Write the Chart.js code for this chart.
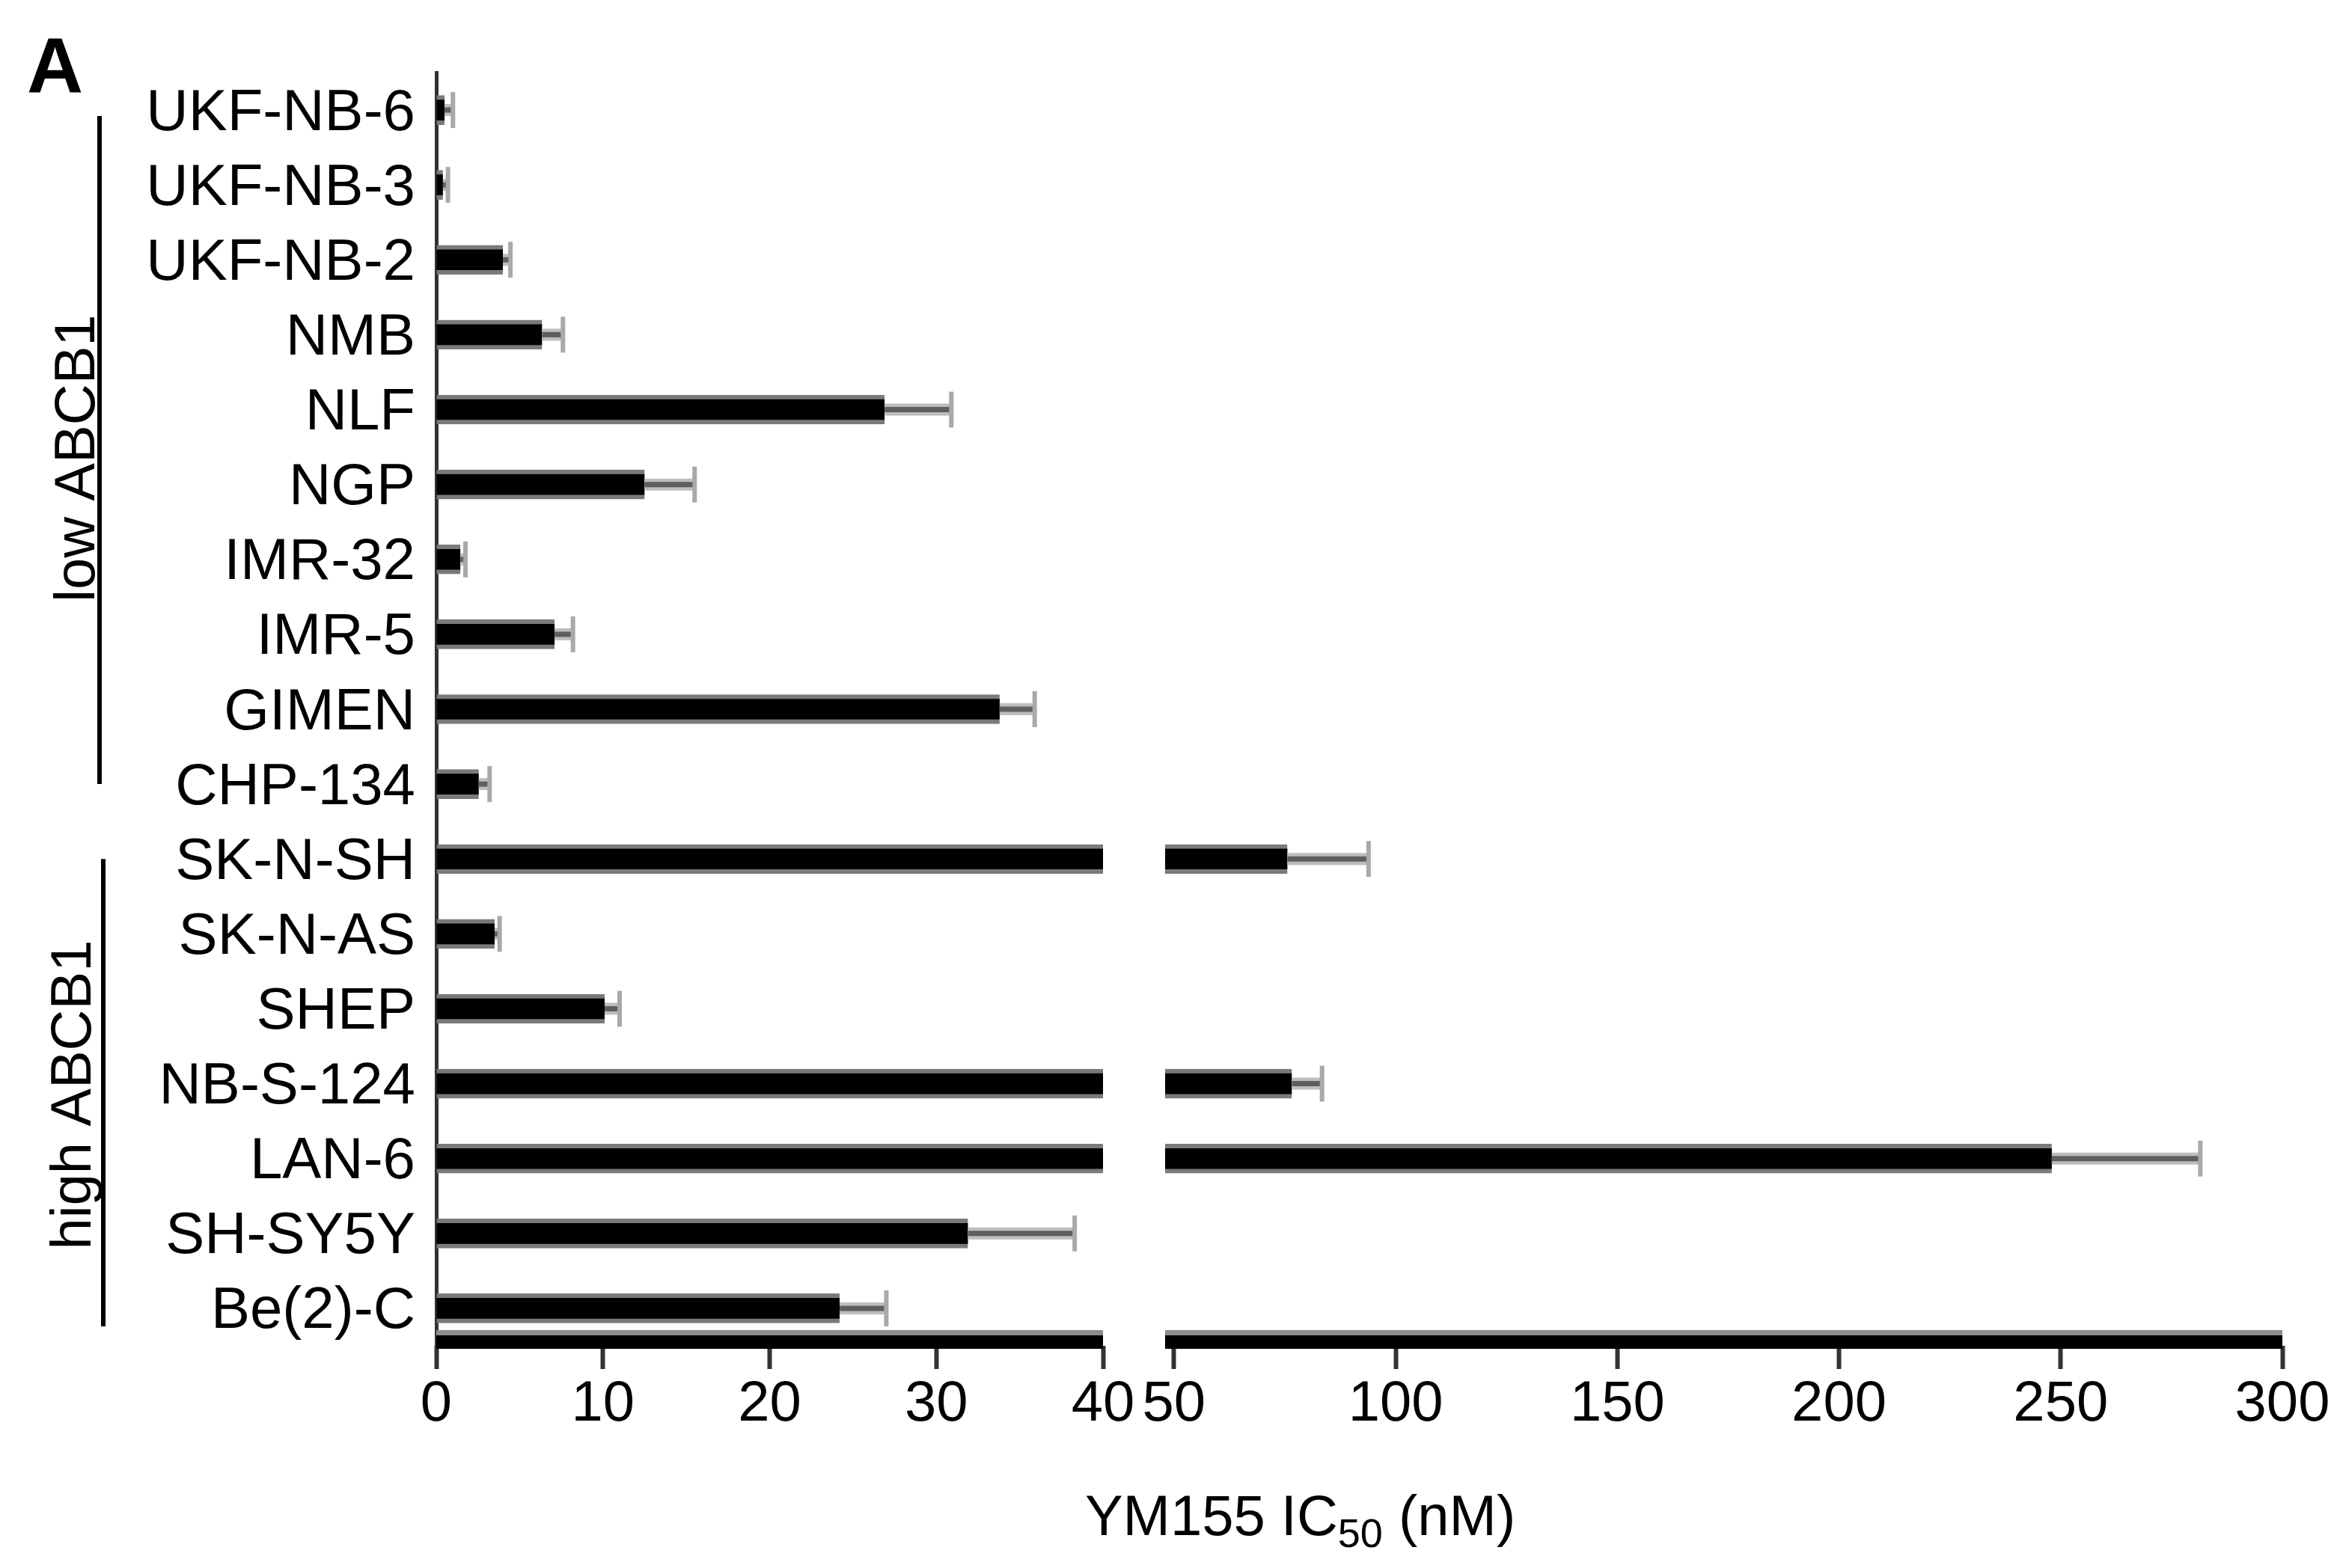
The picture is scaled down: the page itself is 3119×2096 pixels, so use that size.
<!DOCTYPE html>
<html>
<head>
<meta charset="utf-8">
<title>YM155 IC50</title>
<script src="https://cdn.jsdelivr.net/npm/chart.js@4.4.1/dist/chart.umd.min.js"></script>
<style>
  html, body { margin: 0; padding: 0; background: #fff; }
  #chart { display: block; }
</style>
</head>
<body>
<canvas id="chart" width="3119" height="2096"></canvas>
<script>
// Cell lines, top to bottom
const cellLines = ['UKF-NB-6', 'UKF-NB-3', 'UKF-NB-2', 'NMB', 'NLF', 'NGP', 'IMR-32', 'IMR-5', 'GIMEN', 'CHP-134',
                   'SK-N-SH', 'SK-N-AS', 'SHEP', 'NB-S-124', 'LAN-6', 'SH-SY5Y', 'Be(2)-C'];
// YM155 IC50 (nM), mean and SD
const ic50    = [0.5, 0.4, 4.0, 6.35, 26.9, 12.5, 1.45, 7.1, 33.8, 2.55, 75.6, 3.5, 10.1, 76.6, 248, 31.9, 24.2];
const ic50Err = [0.5, 0.3, 0.45, 1.25, 4.0, 3.0, 0.3, 1.1, 2.1, 0.65, 18.3, 0.3, 0.9, 6.8, 33.5, 6.4, 2.8];

// groups: label, first index, last index
const groupNames = ['low ABCB1', 'high ABCB1'];
const groupFirst = [0, 10];
const groupLast  = [9, 16];

// broken x axis
const leftTicks  = [0, 10, 20, 30, 40];
const rightTicks = [50, 100, 150, 200, 250, 300];
const leftRange  = [0, 40];
const rightRange = [48, 300];

const FONT = '"Liberation Sans", Arial, Helvetica, sans-serif';

const leftData  = ic50.map(v => Math.min(v, leftRange[1]));
const rightData = ic50.map(v => v > leftRange[1] ? v : null);

// error bars (SD)
const errorBars = {
  id: 'errorBars',
  afterDatasetsDraw(chart) {
    const ctx = chart.ctx;
    const y = chart.scales.y;
    ctx.save();
    ctx.lineCap = 'butt';
    ic50.forEach((v, i) => {
      const sc = v > leftRange[1] ? chart.scales.xR : chart.scales.xL;
      const x0 = sc.getPixelForValue(v);
      const x1 = sc.getPixelForValue(v + ic50Err[i]);
      const py = y.getPixelForValue(i);
      ctx.strokeStyle = '#bdbdbd';
      ctx.lineWidth = 16;
      ctx.beginPath(); ctx.moveTo(x0, py); ctx.lineTo(x1, py); ctx.stroke();
      ctx.strokeStyle = '#5e5e5e';
      ctx.lineWidth = 7;
      ctx.beginPath(); ctx.moveTo(x0, py); ctx.lineTo(x1, py); ctx.stroke();
      ctx.strokeStyle = '#a9a9a9';
      ctx.lineWidth = 6;
      ctx.beginPath(); ctx.moveTo(x1, py - 24); ctx.lineTo(x1, py + 24); ctx.stroke();
    });
    ctx.restore();
  }
};

// thick bottom axis bars, panel letter, group brackets, axis title
const decorations = {
  id: 'decorations',
  afterDatasetsDraw(chart) {
    const ctx = chart.ctx;
    const area = chart.chartArea;
    const y = chart.scales.y;
    const segs = [[chart.scales.xL, leftRange], [chart.scales.xR, rightRange]];
    ctx.save();
    segs.forEach(([sc, r]) => {
      const a = sc.getPixelForValue(r[0]);
      const b = sc.getPixelForValue(r[1]);
      ctx.fillStyle = '#8c8c8c';
      ctx.fillRect(a, area.bottom - 21, b - a, 7);
      ctx.fillStyle = '#000';
      ctx.fillRect(a, area.bottom - 14, b - a, 18);
    });

    ctx.fillStyle = '#000';
    ctx.strokeStyle = '#000';
    ctx.lineWidth = 6;
    ctx.font = '76px ' + FONT;
    ctx.textAlign = 'center';
    ctx.textBaseline = 'alphabetic';
    groupNames.forEach((name, g) => {
      const top = y.getPixelForValue(groupFirst[g]);
      const bot = y.getPixelForValue(groupLast[g]);
      const lineX = g === 0 ? 133 : 138;
      ctx.beginPath();
      ctx.moveTo(lineX, top + (g === 0 ? 8 : 0));
      ctx.lineTo(lineX, bot + (g === 0 ? 0 : 24));
      ctx.stroke();
      ctx.save();
      ctx.translate(g === 0 ? 126 : 121, (top + bot) / 2 + 15);
      ctx.rotate(-Math.PI / 2);
      ctx.fillText(name, 0, 0);
      ctx.restore();
    });

    ctx.textAlign = 'left';
    ctx.font = 'bold 104px ' + FONT;
    ctx.fillText('A', 36, 123);

    // x axis title with subscript
    const main = 'YM155 IC';
    const sub = '50';
    const tail = ' (nM)';
    ctx.font = '76px ' + FONT;
    const w1 = ctx.measureText(main).width;
    const w3 = ctx.measureText(tail).width;
    ctx.font = '54px ' + FONT;
    const w2 = ctx.measureText(sub).width;
    const cx = area.left + area.width * 0.468;
    let x = cx - (w1 + w2 + w3) / 2;
    const base = 2052;
    ctx.font = '76px ' + FONT;
    ctx.fillText(main, x, base);
    x += w1;
    ctx.font = '54px ' + FONT;
    ctx.fillText(sub, x, base + 16);
    x += w2;
    ctx.font = '76px ' + FONT;
    ctx.fillText(tail, x, base);
    ctx.restore();
  }
};

const barStyle = {
  backgroundColor: '#000',
  borderColor: '#7a7a7a',
  borderWidth: { top: 6, bottom: 6, left: 0, right: 0 },
  borderSkipped: false,
  barThickness: 39,
  grouped: false
};

const xTickStyle = {
  color: '#000',
  font: { family: FONT, size: 76 },
  padding: 2,
  autoSkip: false,
  maxRotation: 0
};

const xGrid = {
  drawOnChartArea: false,
  tickLength: 31,
  tickWidth: 6,
  tickColor: '#333'
};

new Chart(document.getElementById('chart'), {
  type: 'bar',
  data: {
    labels: cellLines,
    datasets: [
      Object.assign({ label: 'IC50 (0-40)', data: leftData, xAxisID: 'xL', yAxisID: 'y' }, barStyle),
      Object.assign({ label: 'IC50 (50-300)', data: rightData, xAxisID: 'xR', yAxisID: 'y', base: rightRange[0] }, barStyle)
    ]
  },
  options: {
    indexAxis: 'y',
    responsive: false,
    animation: false,
    devicePixelRatio: 1,
    layout: { padding: { top: 97, right: 69, left: 0, bottom: 0 } },
    plugins: {
      legend: { display: false },
      tooltip: { enabled: false }
    },
    scales: {
      y: {
        type: 'category',
        position: 'left',
        grid: { display: false },
        border: { display: true, width: 5, color: '#333' },
        ticks: { color: '#000', font: { family: FONT, size: 78 }, padding: 20, labelOffset: 5, autoSkip: false },
        afterFit: s => { s.width = 583; }
      },
      xL: {
        type: 'linear',
        position: 'bottom',
        stack: 'x',
        stackWeight: 891,
        min: leftRange[0],
        max: leftRange[1],
        border: { display: false },
        grid: xGrid,
        ticks: xTickStyle,
        afterBuildTicks: s => { s.ticks = leftTicks.map(v => ({ value: v })); },
        afterFit: s => { s.height = 297; }
      },
      xR: {
        type: 'linear',
        position: 'bottom',
        stack: 'x',
        stackWeight: 1576,
        min: 34,
        max: rightRange[1],
        border: { display: false },
        grid: xGrid,
        ticks: xTickStyle,
        afterBuildTicks: s => { s.ticks = rightTicks.map(v => ({ value: v })); },
        afterFit: s => { s.height = 297; }
      }
    }
  },
  plugins: [errorBars, decorations]
});
</script>
</body>
</html>
